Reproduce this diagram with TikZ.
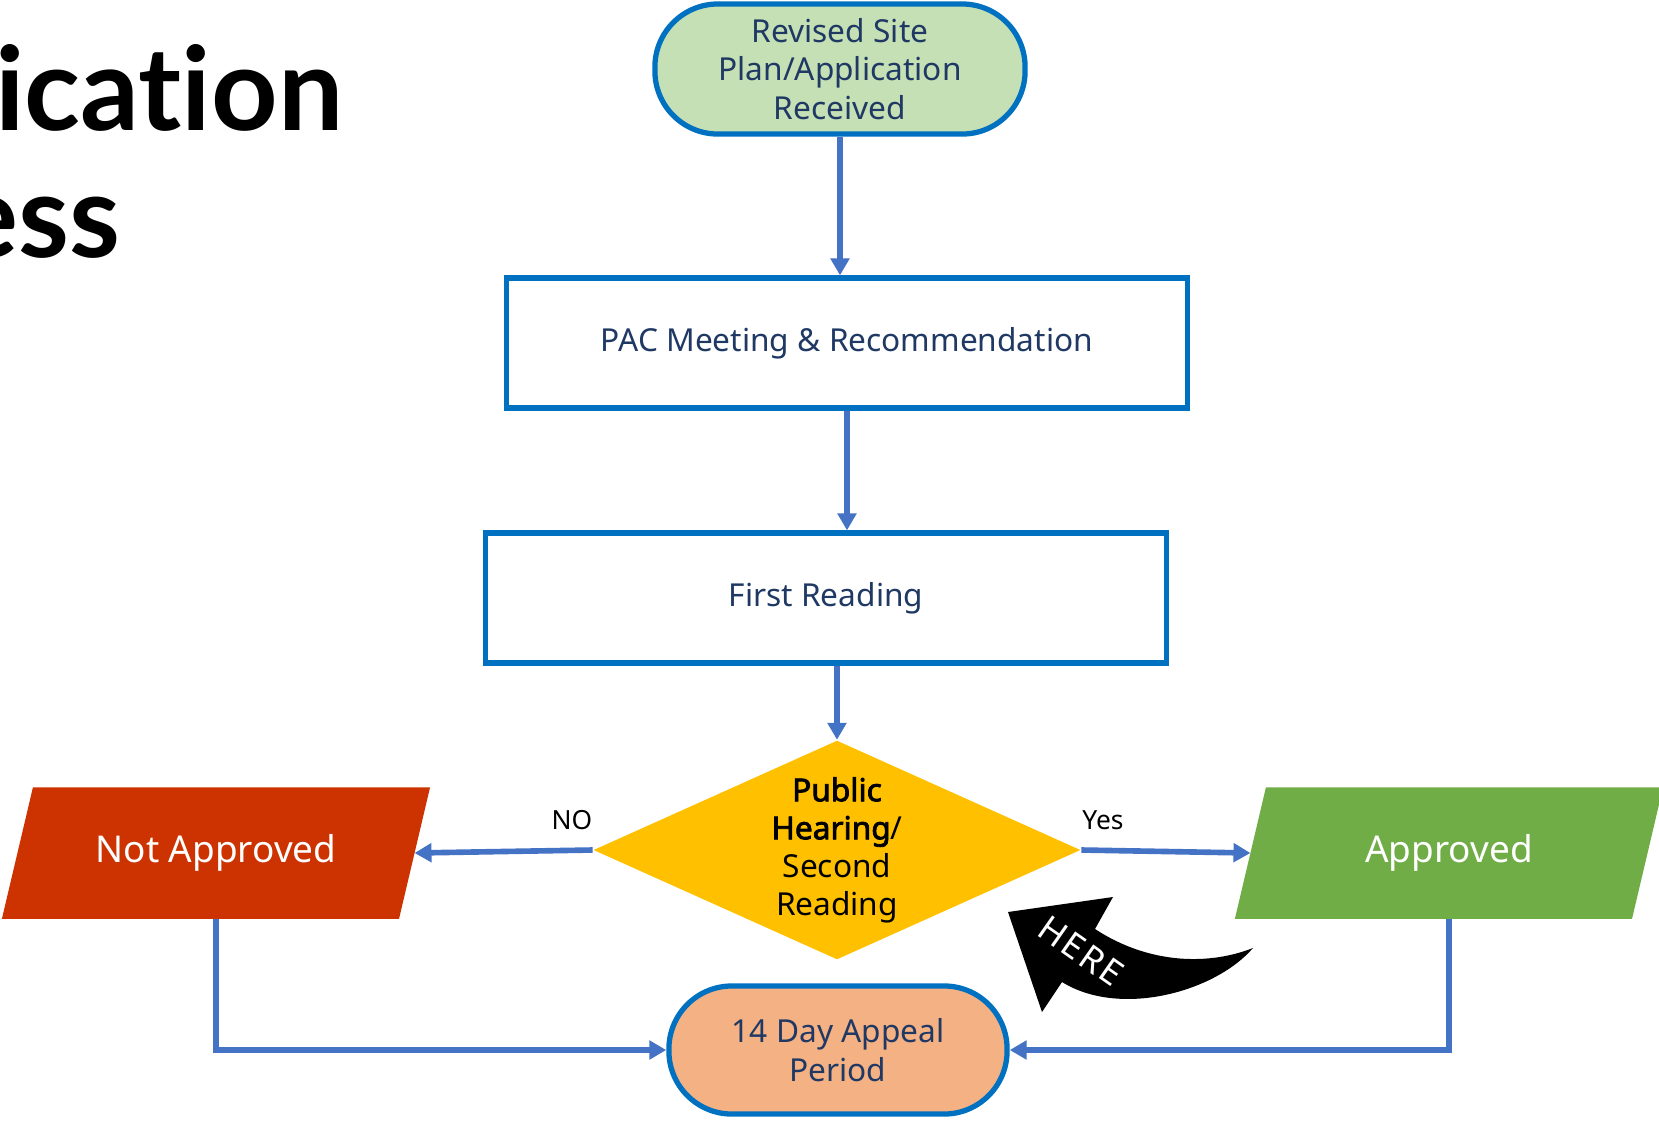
\documentclass[tikz,border=0pt]{standalone}
\usepackage{fontspec}
\setmainfont{Noto Sans}
\newfontfamily\titlefont{Lato}[Ligatures=NoCommon]
\newfontfamily\strongfont{Noto Sans}[FakeBold=2.5]
\newfontfamily\herefont{Noto Sans}[LetterSpace=6]
\usetikzlibrary{shapes.geometric,arrows.meta,positioning,backgrounds}
\definecolor{boxblue}{HTML}{0070C0}
\definecolor{linkblue}{HTML}{4472C4}
\definecolor{navytext}{HTML}{1F3864}
\definecolor{startgreen}{HTML}{C5E0B4}
\definecolor{appealorange}{HTML}{F4B183}
\definecolor{hearyellow}{HTML}{FFC000}
\definecolor{nored}{HTML}{CC3300}
\definecolor{okgreen}{HTML}{70AD47}
\begin{document}
\begin{tikzpicture}[x=0.01cm,y=-0.01cm,>={Triangle[length=4.8pt,width=5.2pt]},
    terminal/.style={draw=boxblue,line width=1.5pt,rounded corners=0.63cm,minimum height=1.3cm,align=center,text=navytext,font=\fontsize{9}{10.9}\selectfont},
    stepbox/.style={draw=boxblue,line width=1.5pt,minimum width=6.8cm,minimum height=1.3cm,text=navytext,font=\fontsize{9}{11}\selectfont},
    outcome/.style={minimum width=3.955cm,minimum height=1.3cm,inner sep=0pt,text=white,font=\fontsize{10.5}{12}\selectfont},
    link/.style={->,draw=linkblue,line width=1.6pt},
    answer/.style={font=\fontsize{7.5}{9}\selectfont}]
    \useasboundingbox (0,0) rectangle (1659,1120);

    % 标题(左侧被裁切)
    \node[anchor=base east,inner sep=0pt,font=\titlefont\bfseries\fontsize{33}{36}\selectfont] (titletop) at (344,130) {ication};
    \node[anchor=base east,inner sep=0pt,font=\titlefont\bfseries\fontsize{33}{36}\selectfont] (titlebottom) at (121,257) {ess};

    % 流程节点
    \node[terminal,fill=startgreen,minimum width=3.7cm] (recv) at (840,69) {Revised Site\\Plan/Application\\Received};
    \node[stepbox] (pac) at (847,343) {PAC Meeting \& Recommendation};
    \node[stepbox] (fr) at (826,598) {First Reading};
    \node[diamond,fill=hearyellow,aspect=2.22,minimum width=4.87cm,minimum height=2.19cm,inner sep=0pt,align=center,font=\fontsize{9}{10.8}\selectfont] (hear) at (837,850) {{\strongfont Public}\\{\strongfont Hearing}/\\Second\\Reading};
    \node[outcome] (notok) at (216,853) {Not Approved};
    \node[outcome] (ok) at (1449,853) {Approved};
    \node[terminal,fill=appealorange,minimum width=3.38cm,minimum height=1.28cm] (appeal) at (838,1050) {14 Day Appeal\\Period};

    % 平行四边形底色
    \begin{scope}[on background layer]
        \foreach \n/\c in {notok/nored,ok/okgreen}
            \fill[\c] ([xshift=0.155cm]\n.north west) -- ([xshift=0.155cm]\n.north east)
                -- ([xshift=-0.155cm]\n.south east) -- ([xshift=-0.155cm]\n.south west) -- cycle;
    \end{scope}

    % 连线
    \draw[link] (recv) -- (recv |- pac.north);
    \draw[link] (pac) -- (pac |- fr.north);
    \draw[link] (hear |- fr.south) -- (hear.north);
    \draw[link] (hear.west) -- (notok.east);
    \draw[link] (hear.east) -- (ok.west);
    \draw[link] (notok.south) |- (appeal.west);
    \draw[link] (ok.south) |- (appeal.east);
    \node[answer] (nolabel) at (572,820) {NO};
    \node[answer] (yeslabel) at (1103,820) {Yes};

    % 弯箭头 HERE
    \fill (1008,912) -- (1113,897) -- (1095,929) .. controls (1150,965) and (1210,965) .. (1253,948)
        .. controls (1215,992) and (1120,1018) .. (1062,982) -- (1042,1012) -- cycle;
    \node[rotate=-35,text=white,font=\herefont\fontsize{10}{11}\selectfont] (here) at (1081,951) {HERE};
\end{tikzpicture}
\end{document}
